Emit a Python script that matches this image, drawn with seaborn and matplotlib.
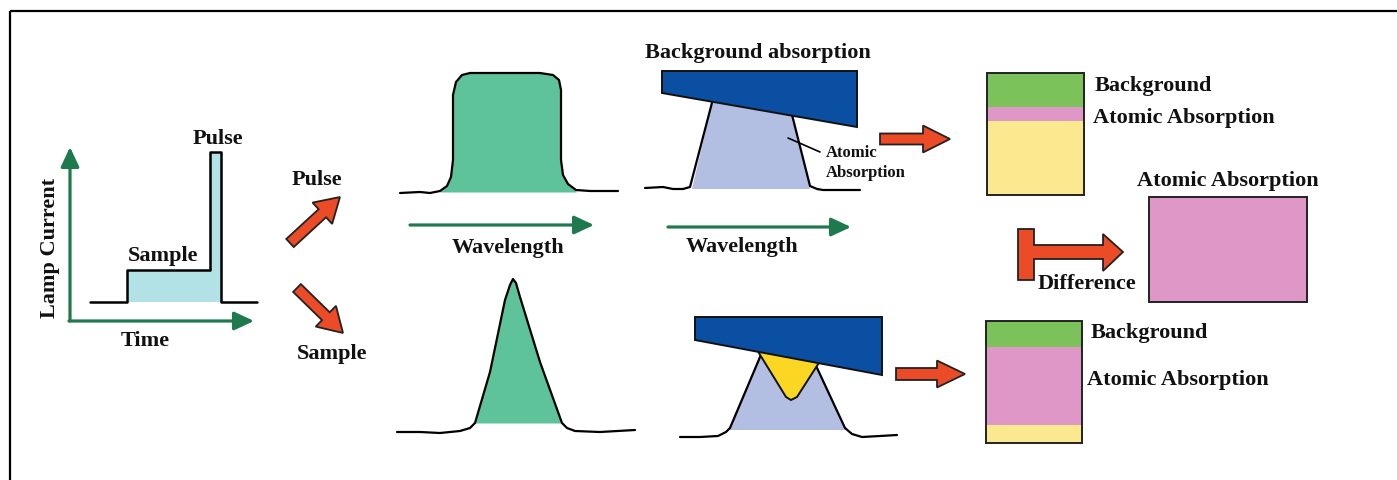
import numpy as np
import pandas as pd
import matplotlib
matplotlib.use("Agg")
import matplotlib.pyplot as plt
import seaborn as sns
from matplotlib.patches import FancyArrow, Polygon, Rectangle

sns.set_theme(style="white")
plt.rcParams['font.family'] = ['Liberation Serif', 'DejaVu Serif']
plt.rcParams['font.weight'] = 'bold'

# ---------------- data (diagram coordinates, pixel space) ----------------
# lamp current vs time (step profile)
lamp_time = [90, 127, 127, 210, 210, 221, 221, 257]
lamp_current = [302, 302, 270, 270, 152, 152, 302, 302]

# broad emission profile (pulse)
broad_wl = [400, 420, 430, 440, 447, 451, 453, 453, 456, 462, 470, 540, 553, 559, 561, 561, 563, 568, 576, 590, 618]
broad_int = [193, 192, 193, 191, 186, 177, 160, 95, 82, 75, 73, 73, 75, 80, 90, 160, 175, 184, 190, 191, 191]

# narrow emission profile (sample)
narrow_wl = [397, 420, 440, 460, 470, 475, 490, 505, 510, 513, 516, 520, 540, 562, 567, 575, 600, 635]
narrow_int = [432, 432, 433, 431, 428, 423, 372, 300, 285, 279, 283, 297, 362, 423, 428, 431, 432, 430]

# atomic absorption profile outlines (top = pulse, bottom = sample)
top_abs_left_x = [645, 663, 673, 683, 690, 714]
top_abs_left_y = [188, 187, 189, 189, 187, 95]
top_abs_right_x = [787, 810, 817, 823, 860]
top_abs_right_y = [95, 186, 189, 190, 190]
bot_abs_left_x = [680, 700, 718, 726, 730, 763]
bot_abs_left_y = [437, 437, 436, 432, 428, 350]
bot_abs_right_x = [811, 845, 852, 862, 880, 897]
bot_abs_right_y = [355, 428, 434, 437, 436, 435]

# stacked signal boxes: segment heights (background, atomic absorption, remaining)
box_segments = ["Background", "Atomic Absorption", "Remaining"]
pulse_box_heights = [34, 14, 74]
sample_box_heights = [26, 78, 18]

# ---------------- styles ----------------
GREEN_ARROW = "#1e7a4e"
RED = "#eb4b27"
BLUE = "#0b4fa3"
LIGHT_BLUE = "#b3bee3"
PROFILE_GREEN = "#5ec39a"
YELLOW = "#fbd723"
SEG_COLORS = ["#7bc25b", "#de97c7", "#fce98f"]
CYAN = "#b3e2e6"
PINK = "#de97c7"

fig = plt.figure(figsize=(13.97, 4.80), dpi=100)
ax = fig.add_axes([0, 0, 1, 1])
ax.set_xlim(0, 1397)
ax.set_ylim(480, 0)
ax.axis("off")

def txt(x, y, s, size=16, ha="center", **kw):
    ax.text(x, y, s, fontsize=size, ha=ha, va="center", fontweight="bold",
            family=["Liberation Serif", "DejaVu Serif"], color="#111111", **kw)

def green_arrow(x0, y0, x1, y1):
    ax.annotate("", xy=(x1, y1), xytext=(x0, y0),
                arrowprops=dict(arrowstyle="-|>,head_length=0.6,head_width=0.28",
                                color=GREEN_ARROW, lw=2.3, shrinkA=0, shrinkB=0,
                                mutation_scale=20), zorder=5)

def red_arrow(x0, y0, x1, y1, width=11, head_width=27, head_length=27):
    ax.add_patch(FancyArrow(x0, y0, x1 - x0, y1 - y0, width=width,
                            head_width=head_width, head_length=head_length,
                            length_includes_head=True, fc=RED, ec="#222222",
                            lw=1.3, zorder=6))

def curve(x, y, lw=1.6):
    sns.lineplot(x=x, y=y, ax=ax, color="black", lw=lw, estimator=None,
                 sort=False, legend=False, zorder=3)

# frame (top and left only)
ax.plot([10, 1397], [11, 11], color="black", lw=1.6, solid_capstyle="butt")
ax.plot([10, 10], [11, 480], color="black", lw=1.6, solid_capstyle="butt")

# ---------------- lamp current panel ----------------
ax.fill(lamp_time[1:7], lamp_current[1:7], color=CYAN, zorder=1, lw=0)
curve(lamp_time, lamp_current, lw=1.8)
green_arrow(70, 321, 70, 147)
green_arrow(69, 321, 254, 321)
txt(218, 139, "Pulse")
txt(163, 256, "Sample")
txt(50, 248, "Lamp Current", rotation=90)
txt(145, 341, "Time")

red_arrow(290, 243, 340, 197, width=11, head_width=29, head_length=24)
red_arrow(297, 288, 343, 333, width=11, head_width=29, head_length=24)
txt(317, 180, "Pulse")
txt(332, 354, "Sample")

# ---------------- emission profiles ----------------
bw = np.array(broad_wl); bi = np.array(broad_int)
m = (bw >= 440) & (bw <= 576)
ax.fill_between(bw[m], bi[m], 192, color=PROFILE_GREEN, lw=0, zorder=1)
curve(broad_wl, broad_int)

nw = np.array(narrow_wl); ni = np.array(narrow_int)
m = (nw >= 475) & (nw <= 562)
ax.fill_between(nw[m], ni[m], 423, color=PROFILE_GREEN, lw=0, zorder=1)
curve(narrow_wl, narrow_int)

green_arrow(410, 225, 594, 225)
txt(508, 248, "Wavelength")

# ---------------- absorption (pulse) ----------------
ax.add_patch(Polygon([(692, 189), (714, 95), (787, 95), (810, 189)],
                     closed=True, fc=LIGHT_BLUE, ec="none", zorder=1))
curve(top_abs_left_x, top_abs_left_y)
curve(top_abs_right_x, top_abs_right_y)
ax.add_patch(Polygon([(662, 71), (857, 71), (857, 127), (662, 93)], closed=True,
                     fc=BLUE, ec="#111111", lw=1.4, zorder=4))
ax.plot([788, 820], [138, 152], color="black", lw=1.2, zorder=5)
txt(758, 53, "Background absorption")
txt(826, 153, "Atomic", size=12, ha="left")
txt(826, 173, "Absorption", size=12, ha="left")
green_arrow(668, 227, 851, 227)
txt(742, 247, "Wavelength")

# ---------------- absorption (sample) ----------------
ax.add_patch(Polygon([(728, 430), (763, 350), (811, 355), (845, 430)],
                     closed=True, fc=LIGHT_BLUE, ec="none", zorder=1))
curve(bot_abs_left_x, bot_abs_left_y)
curve(bot_abs_right_x, bot_abs_right_y)
ax.add_patch(Polygon([(754, 345), (822, 358), (797, 397), (791, 400), (786, 397)],
                     closed=True, fc=YELLOW, ec="#111111", lw=1.4, zorder=3.5))
ax.add_patch(Polygon([(695, 317), (882, 317), (882, 375), (695, 340)], closed=True,
                     fc=BLUE, ec="#111111", lw=1.4, zorder=4))

# ---------------- signal boxes ----------------
def stacked_box(x0, x1, top, heights):
    b = top
    for h, c in zip(heights, SEG_COLORS):
        ax.bar((x0 + x1) / 2, h, bottom=b, width=x1 - x0, color=c, lw=0, zorder=2)
        b += h
    ax.add_patch(Rectangle((x0, top), x1 - x0, sum(heights), fc="none",
                           ec="#222222", lw=1.4, zorder=3))

stacked_box(987, 1084, 73, pulse_box_heights)
txt(1095, 86, "Background", ha="left")
txt(1093, 118, "Atomic Absorption", ha="left")
red_arrow(880, 139, 950, 139, width=11, head_width=27, head_length=27)

stacked_box(986, 1082, 321, sample_box_heights)
txt(1091, 333, "Background", ha="left")
txt(1087, 380, "Atomic Absorption", ha="left")
red_arrow(896, 374, 965, 374, width=12, head_width=27, head_length=28)

# difference arrow and result
ax.add_patch(Polygon([(1018, 229), (1034, 229), (1034, 245), (1103, 245), (1103, 234),
                      (1123, 252), (1103, 271), (1103, 259), (1034, 259), (1034, 280),
                      (1018, 280)], closed=True, fc=RED, ec="#222222", lw=1.3, zorder=6))
txt(1087, 284, "Difference")
ax.add_patch(Rectangle((1149, 197), 158, 105, fc=PINK, ec="#222222", lw=1.4, zorder=2))
txt(1228, 181, "Atomic Absorption")

fig.savefig("out.png", dpi=100)
